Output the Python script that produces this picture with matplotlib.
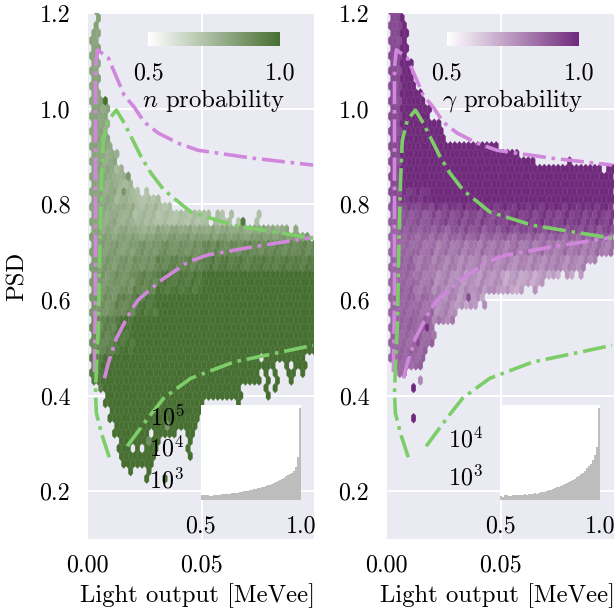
import numpy as np
import matplotlib
matplotlib.use('Agg')
import matplotlib.pyplot as plt
from matplotlib.colors import LinearSegmentedColormap

plt.rcParams['font.family'] = ['cmr10', 'DejaVu Serif']
plt.rcParams['mathtext.fontset'] = 'cm'
plt.rcParams['axes.unicode_minus'] = False
plt.rcParams['axes.formatter.use_mathtext'] = True

# curves, same on both panels
pink_up_x = [.0032, .0037, .0037, .0037, .0037, .0045, .0093, .0162, .0206, .0249, .031, .0396, .0483, .0712, .0985]
pink_up_y = [.449, .600, .669, .878, 1.087, 1.123, 1.106, 1.028, 1.003, .972, .949, .928, .913, .897, .882]
pink_lo_x = [.0076, .0093, .0128, .0193, .0223, .0323, .0439, .0526, .0712, .0985]
pink_lo_y = [.436, .468, .520, .579, .600, .641, .679, .694, .710, .731]
green_up_x = [.0097, .0063, .0041, .0037, .0041, .0050, .0054, .0063, .0071, .0093, .0128, .0162, .0206, .0236, .0279, .0335, .0452, .0639, .0985]
green_up_y = [.271, .321, .363, .405, .459, .551, .669, .844, .934, .976, .997, .970, .928, .899, .865, .830, .784, .756, .729]
green_lo_x = [.0175, .0266, .0335, .0452, .0639, .0985]
green_lo_y = [.294, .353, .395, .436, .470, .505]

# top and bottom PSD of the hexagons per column (50 columns over 0..0.1)
n_top = [0, 1.16, 1.25, 1.03, 1.03, .935, .913, .882, .867, .861, .83, .83, .82, .836, .826, .82, .81, .80, .80, .788,
         .79, .788, .79, .788, .79, .78, .78, .76, .79, .79, .77, .79, .76, .77, .77, .75, .76, .79, .75, .75,
         .755, .75, .75, .75, .745, .75, .74, .735, .74, .73]
n_bot = [9, .43, .43, .41, .37, .342, .307, .265, .248, .23, .244, .25, .254, .213, .244, .282, .313, .313, .307, .307,
         .327, .327, .259, .307, .349, .369, .39, .395, .395, .395, .395, .395, .395, .38, .426, .426, .426, .426, .46, .395,
         .45, .43, .47, .45, .43, .44, .46, .44, .47, .48]
g_top = [0, 1.25, 1.25, 1.25, 1.185, 1.11, 1.06, 1.04, 1.02, 1.0, .98, .976, .956, .93, .93, .93, .93, .93, .93, .925,
         .925, .925, .93, .925, .925, .918, .915, .915, .91, .90, .90, .90, .90, .885, .88, .88, .88, .88, .88, .88,
         .897, .88, .88, .88, .88, .88, .875, .865, .875, .875]
g_bot = [9, .47, .453, .443, .443, .449, .449, .449, .474, .495, .495, .547, .547, .543, .543, .558, .574, .589, .579, .589,
         .60, .574, .62, .61, .61, .62, .616, .62, .62, .616, .631, .631, .62, .626, .631, .641, .652, .652, .662, .645,
         .641, .662, .652, .662, .673, .679, .687, .694, .694, .689]

x_edges = [.006, .012, .02, .03, .05]
n_edges = [.80, .76, .74, .72, .70, .66, .62, .56, .48]
n_prob = [[.82, .80, .76, .72, .72, .70],
          [.82, .80, .78, .74, .72, .72],
          [.82, .80, .80, .78, .80, .80],
          [.84, .82, .82, .82, .84, .84],
          [.84, .84, .84, .86, .88, .91],
          [.84, .85, .86, .88, .92, .95],
          [.85, .86, .88, .92, .97, 1.0],
          [.86, .88, .92, .97, 1.0, 1.0],
          [.90, .93, .98, 1.0, 1.0, 1.0],
          [.96, 1.0, 1.0, 1.0, 1.0, 1.0]]
g_edges = [.84, .80, .78, .76, .74, .72, .70, .66, .62, .56]
g_prob = [[.92, 1.0, 1.0, 1.0, 1.0, 1.0],
          [.92, .97, .98, 1.0, 1.0, 1.0],
          [.90, .93, .94, .96, .97, .98],
          [.88, .90, .90, .92, .93, .95],
          [.86, .88, .88, .88, .90, .92],
          [.86, .86, .85, .85, .86, .86],
          [.86, .86, .84, .82, .82, .82],
          [.86, .86, .82, .80, .78, .78],
          [.86, .86, .82, .78, .76, .72],
          [.86, .86, .84, .78, .74, .70],
          [.86, .86, .86, .80, .74, .70]]

# streaks seen between columns, added to the band value in the paler parts
n_tone = [0, 0, .01, -.01, .02, 0, -.02, .01, .02, -.01, .02, 0, -.02, .01, -.01, .02, 0, -.02, .01, .02,
          -.01, 0, .02, -.02, .01, 0, -.01, .02, -.02, .01, .02, -.01, 0, .02, -.01, -.02, .01, 0, .02, -.01,
          .01, -.02, 0, .02, -.01, .01, 0, -.02, .02, 0]
g_tone = [0, 0, 0, .01, -.01, .02, 0, -.02, .02, .01, -.02, .03, 0, -.03, .02, .01, -.02, .03, -.01, 0,
          .03, -.03, .01, .02, -.02, 0, .03, -.01, -.03, .02, .01, -.02, .03, 0, -.03, .02, -.01, .03, .01, -.03,
          .02, 0, -.02, .03, -.01, .02, -.03, .01, .03, -.02]

# single hexagons that stand out (light output, PSD, probability)
n_extra = [(.0084, 1.008, 1.0), (.018, .861, .86), (.0158, .83, .86), (.0677, .767, .96),
           (.0357, .334, .86), (.0335, .227, 1.0), (.082, .418, 1.0), (.0266, .30, .9)]
n_holes = [(.0206, .29), (.0249, .29), (.0288, .321), (.0755, .475), (.0833, .468), (.0894, .468), (.0972, .468)]
g_extra = [(.0128, .351, 1.0), (.011, .417, 1.0), (.0141, .434, .78), (.0188, .537, .98),
           (.014, .516, .92), (.0357, .606, .92), (.0805, .895, 1.0)]
g_holes = []

# inset histograms
hist_edges = np.arange(.5, 1.001, .01)
n_hist = [280, 290, 285, 280, 275, 275, 280, 285, 290, 295, 300, 305, 310, 305, 315, 325, 330, 340, 345, 350,
          365, 375, 385, 395, 410, 420, 435, 450, 470, 490, 510, 530, 560, 590, 620, 660, 710, 760, 820, 880,
          950, 1030, 1130, 1240, 1370, 1450, 1700, 2300, 4800, 165000]
g_hist = [280, 270, 295, 290, 285, 285, 300, 290, 295, 290, 305, 295, 315, 305, 310, 325, 315, 335, 325, 345,
          350, 360, 355, 380, 395, 405, 420, 445, 470, 490, 510, 530, 570, 610, 650, 690, 740, 800, 870, 960,
          1040, 1150, 1300, 1500, 1750, 2000, 2500, 3400, 5500, 58000]

W, H = 614, 612
GRID = (50, 38)
EXTENT = (0, .1, .1, 1.3)
FS = 17.3
FS_LABEL = 17.8
pink = '#d087dc'
green = '#7dcd68'


def px_axes(fig, left, top, right, bottom):
    return fig.add_axes([left / W, 1 - bottom / H, (right - left) / W, (bottom - top) / H])


def cells(tops, bots, edges, prob, tone, extra, holes):
    sx = (EXTENT[1] - EXTENT[0]) / GRID[0]
    sy = (EXTENT[3] - EXTENT[2]) / GRID[1]
    xs, ys, ps = [], [], []
    for k in range(GRID[0]):
        for r in range(2 * GRID[1]):
            y = EXTENT[2] + r * sy / 2
            x = k * sx + (sx / 2 if r % 2 else 0)
            if y < bots[k] or y > tops[k]:
                continue
            # edges run from high to low
            row = sum(y < e for e in edges)
            col = np.searchsorted(x_edges, x)
            p = prob[row][col]
            if p < 1:
                p = min(1, p + (tone[k] if r % 4 < 2 else -tone[k]))
            xs.append(x)
            ys.append(y)
            ps.append(p)
    xs, ys, ps = np.array(xs), np.array(ys), np.array(ps)
    # drop the empty spots
    keep = np.ones(len(xs), bool)
    for hx, hy in holes:
        d = ((xs - hx) / sx) ** 2 + ((ys - hy) / sy) ** 2
        keep[np.argmin(d)] = False
    xs, ys, ps = list(xs[keep]), list(ys[keep]), list(ps[keep])
    for ex, ey, ep in extra:
        # overrides what is already in the cell
        i = int(round((ey - EXTENT[2]) / (sy / 2)))
        ey = EXTENT[2] + i * sy / 2
        ex = (round(ex / sx - (.5 if i % 2 else 0)) + (.5 if i % 2 else 0)) * sx
        for j in range(len(xs)):
            if abs(xs[j] - ex) < 1e-9 and abs(ys[j] - ey) < 1e-9:
                ps[j] = ep
                break
        else:
            xs.append(ex)
            ys.append(ey)
            ps.append(ep)
    return xs, ys, ps


def panel(fig, left, right, zero_px, tops, bots, edges, prob, tone, extra, holes, dark, title,
          hist, hist_ylim, hist_ticks, hist_labels):
    ax = px_axes(fig, left, 13, right, 539)
    ax.set_facecolor('#eaeaf2')
    ax.grid(True, color='white', lw=1.4)
    ax.set_axisbelow(True)
    for s in ax.spines.values():
        s.set_visible(False)

    cmap = LinearSegmentedColormap.from_list('p', ['white', dark])
    xs, ys, ps = cells(tops, bots, edges, prob, tone, extra, holes)
    hb = ax.hexbin(xs, ys, C=ps, gridsize=GRID, extent=EXTENT, cmap=cmap, vmin=.5, vmax=1,
                   reduce_C_function=np.mean, edgecolors='face', linewidths=.2, zorder=2)

    ax.plot(pink_up_x, pink_up_y, color=pink, ls='-.', lw=2.6, zorder=3)
    ax.plot(pink_lo_x, pink_lo_y, color=pink, ls='-.', lw=2.6, zorder=3)
    ax.plot(green_up_x, green_up_y, color=green, ls='-.', lw=2.6, zorder=3)
    ax.plot(green_lo_x, green_lo_y, color=green, ls='-.', lw=2.6, zorder=3)

    ax.set_xlim((left - zero_px) / 2310, (right - zero_px) / 2310)
    ax.set_ylim(.1, 1.2)
    ax.set_xticks([0, .05])
    ax.set_xticklabels(['0.00', '0.05'], fontsize=FS)
    ax.set_yticks([.2, .4, .6, .8, 1.0, 1.2])
    ax.set_yticklabels(['0.2', '0.4', '0.6', '0.8', '1.0', '1.2'], fontsize=FS)
    ax.tick_params(length=0)
    ax.tick_params(axis='x', pad=11)
    ax.tick_params(axis='y', pad=12)
    ax.set_xlabel('Light output [MeVee]', fontsize=FS_LABEL, labelpad=5, x=.488)

    # colour bar on top
    off = left - 87
    cax = px_axes(fig, 148 + off, 32, 280 + off, 46)
    cb = fig.colorbar(hb, cax=cax, orientation='horizontal')
    cb.outline.set_visible(False)
    cb.set_ticks([.5, 1.0])
    cb.set_ticklabels(['0.5', '1.0'], fontsize=FS)
    cax.tick_params(length=0, pad=12)
    fig.text((214 + off) / W, 1 - 101 / H, title, fontsize=FS_LABEL, ha='center', va='center')

    # histogram of the probabilities
    iax = px_axes(fig, 201 + off, 405, 301 + off, 500)
    iax.set_facecolor('white')
    iax.stairs(hist, hist_edges, fill=True, color='#bdbdbd', baseline=hist_ylim[0])
    iax.set_yscale('log')
    iax.set_xlim(.5, 1.0)
    iax.set_ylim(*hist_ylim)
    iax.set_xticks([.5, 1.0])
    iax.set_xticklabels(['0.5', '1.0'], fontsize=FS)
    iax.set_yticks(hist_ticks)
    iax.set_yticklabels(hist_labels, fontsize=FS)
    iax.minorticks_off()
    iax.tick_params(length=0)
    iax.tick_params(axis='x', pad=11)
    iax.tick_params(axis='y', pad=12)
    for s in iax.spines.values():
        s.set_visible(False)
    return ax


fig = plt.figure(figsize=(W / 100, H / 100), dpi=100)
ax1 = panel(fig, 87, 314, 85.5, n_top, n_bot, n_edges, n_prob, n_tone, n_extra, n_holes, '#476f32',
            r'$n$ probability', n_hist, (200, 2.1e5), [1e3, 1e4, 1e5],
            [r'$10^{3}$', r'$10^{4}$', r'$10^{5}$'])
ax2 = panel(fig, 386, 614, 384.5, g_top, g_bot, g_edges, g_prob, g_tone, g_extra, g_holes, '#702a7c',
            r'$\gamma$ probability', g_hist, (220, 6.9e4), [1e3, 1e4],
            [r'$10^{3}$', r'$10^{4}$'])
ax1.set_ylabel('PSD', fontsize=FS_LABEL, labelpad=8)

fig.savefig('out.png', dpi=100)
